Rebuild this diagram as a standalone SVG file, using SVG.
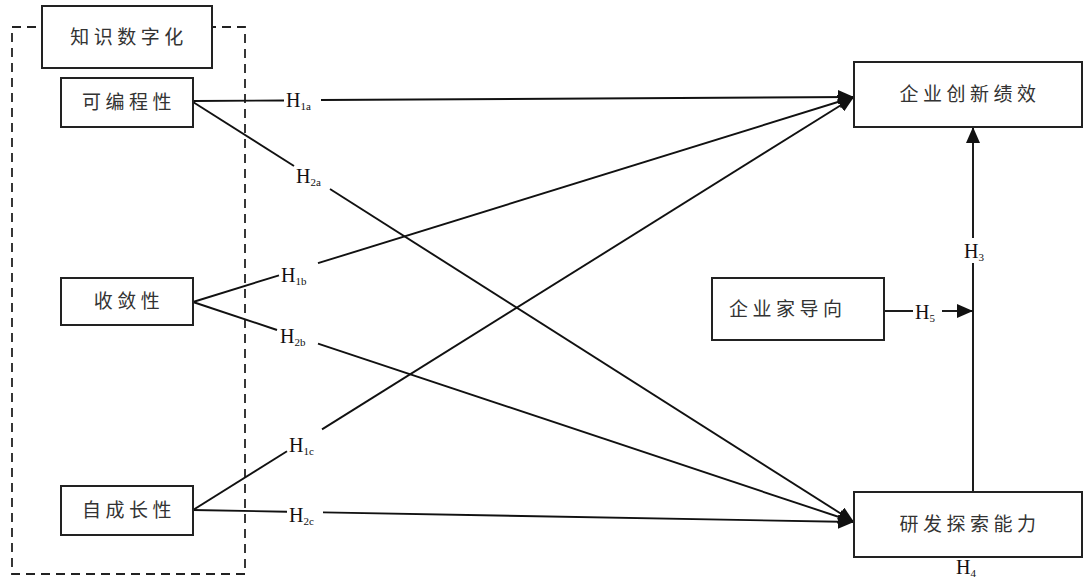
<svg xmlns="http://www.w3.org/2000/svg" width="1089" height="582" viewBox="0 0 1089 582">
<defs>
<marker id="arr" markerUnits="userSpaceOnUse" markerWidth="18" markerHeight="14" refX="16" refY="7" orient="auto">
<path d="M0,0 L16,7 L0,14 Z" fill="#111"/>
</marker>
</defs>
<style>
.box{fill:#fff;stroke:#222;stroke-width:2}
.cn{font-family:"Noto Sans CJK SC","Noto Sans",sans-serif;font-size:19px;fill:#333;letter-spacing:4.5px}
.ln{stroke:#111;stroke-width:1.9;fill:none}
.h{font-family:"Liberation Serif",serif;font-size:20px;fill:#111}
.s{font-size:11px}
</style>
<rect x="0" y="0" width="1089" height="582" fill="#fff"/>
<rect x="12" y="27" width="233" height="547" fill="none" stroke="#222" stroke-width="1.8" stroke-dasharray="9,6"/>
<g id="connectors">
<path class="ln" d="M193,101 L284,100.5"/>
<path class="ln" d="M321,100 L854,97" marker-end="url(#arr)"/>
<path class="ln" d="M193,102 L294,166"/>
<path class="ln" d="M330,189 L854,522" marker-end="url(#arr)"/>
<path class="ln" d="M193,302 L279,275.3"/>
<path class="ln" d="M318,263.2 L854,97" marker-end="url(#arr)"/>
<path class="ln" d="M193,302 L277,330"/>
<path class="ln" d="M318,343.6 L854,522" marker-end="url(#arr)"/>
<path class="ln" d="M193,510 L287,451.3"/>
<path class="ln" d="M322,429.4 L854,97" marker-end="url(#arr)"/>
<path class="ln" d="M193,510 L287,511.7"/>
<path class="ln" d="M323,512.4 L854,522" marker-end="url(#arr)"/>
<path class="ln" d="M884,311 L913,311"/>
<path class="ln" d="M942,311 L973,311" marker-end="url(#arr)"/>
<path class="ln" d="M973,492 L973,263"/>
<path class="ln" d="M973,238 L973,127" marker-end="url(#arr)"/>
<text class="h" x="286" y="107">H<tspan class="s" dy="3">1a</tspan></text>
<text class="h" x="296" y="183">H<tspan class="s" dy="3">2a</tspan></text>
<text class="h" x="281" y="282">H<tspan class="s" dy="3">1b</tspan></text>
<text class="h" x="280" y="343">H<tspan class="s" dy="3">2b</tspan></text>
<text class="h" x="289" y="452">H<tspan class="s" dy="3">1c</tspan></text>
<text class="h" x="289" y="522">H<tspan class="s" dy="3">2c</tspan></text>
<text class="h" x="915" y="319">H<tspan class="s" dy="3">5</tspan></text>
<text class="h" x="964" y="258">H<tspan class="s" dy="3">3</tspan></text>
<text class="h" x="956" y="574">H<tspan class="s" dy="3">4</tspan></text>
</g>
<g id="n-digital"><rect class="box" x="42" y="6" width="170" height="62"/><text class="cn" x="129" y="44" text-anchor="middle">知识数字化</text></g>
<g id="n-prog"><rect class="box" x="61" y="78" width="132" height="49"/><text class="cn" x="129" y="109" text-anchor="middle">可编程性</text></g>
<g id="n-conv"><rect class="box" x="61" y="278" width="132" height="47"/><text class="cn" x="129" y="308" text-anchor="middle">收敛性</text></g>
<g id="n-grow"><rect class="box" x="61" y="486" width="132" height="49"/><text class="cn" x="129" y="517" text-anchor="middle">自成长性</text></g>
<g id="n-perf"><rect class="box" x="854" y="62" width="228" height="65"/><text class="cn" x="970" y="101" text-anchor="middle">企业创新绩效</text></g>
<g id="n-ent"><rect class="box" x="712" y="278" width="172" height="62"/><text class="cn" x="729" y="316">企业家导向</text></g>
<g id="n-rd"><rect class="box" x="854" y="492" width="228" height="65"/><text class="cn" x="970" y="531" text-anchor="middle">研发探索能力</text></g>
</svg>
